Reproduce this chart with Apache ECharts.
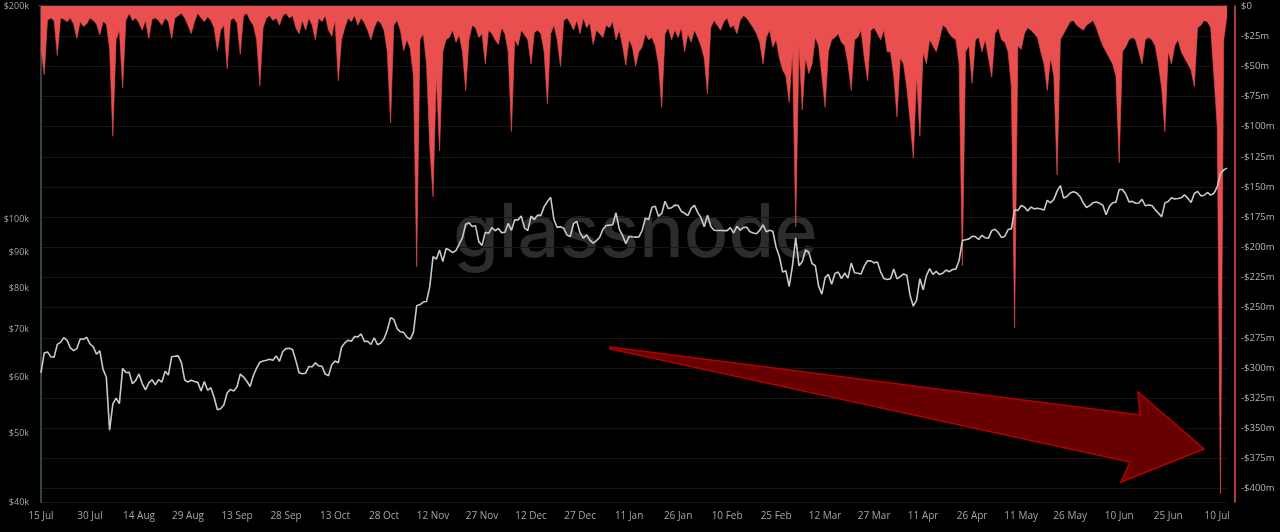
<!DOCTYPE html>
<html>
<head>
<meta charset="utf-8">
<script src="https://cdn.jsdelivr.net/npm/echarts@6/dist/echarts.min.js"></script>
<style>
html,body{margin:0;padding:0;background:#000;}
#chart{width:1280px;height:532px;}
</style>
</head>
<body>
<div id="chart"></div>
<script>
// Day 0 = 15 Jul 2024 (one value per day, 15 Jul 2024 .. 13 Jul 2025)
const startDate = '2024-07-15';

// BTC price (USD), one value per day
const priceValues = [
60800,64870,65100,64100,63980,66700,67150,68190,67570,65930,
65370,65800,67900,67810,68260,66820,66200,64620,65350,61500,
60000,50500,55000,56040,55030,61710,60880,60940,58710,59350,
60610,58740,57560,58870,59480,58480,59490,59010,61160,60380,
64100,64180,64260,62830,59420,59030,59390,59120,58970,57330,
59120,57480,57970,56160,53950,54140,54840,57020,57650,57340,
58130,60570,60000,59180,58190,60310,61760,62950,63200,63350,
63580,63340,64260,63140,65180,65790,65890,65600,63330,60840,
60630,60750,62090,62050,62820,62220,62130,60580,60270,62450,
63190,62850,66080,67040,67610,67400,68420,68360,69000,67370,
67380,66680,68160,66640,67010,67930,69910,72720,72340,70220,
69480,69360,68300,67800,69360,75640,75900,76540,76680,80470,
88700,87960,90580,87250,91070,90600,89850,90460,92340,94340,
98500,98990,97780,98010,93100,91990,95960,95650,97460,96450,
97190,95860,96000,98770,96590,99920,99920,101170,97360,96490,
101130,100000,101460,101370,104300,106030,107500,100040,97490,97750,
97220,95100,94690,98680,99430,95790,94170,95160,93560,92640,
93430,94420,96890,98110,98240,98350,102240,96950,95040,92480,
94700,94570,94490,94520,96530,100500,99990,104080,104400,101090,
102020,106150,103650,103960,104820,104710,102680,102090,101330,103730,
104740,102400,100650,97690,101400,97870,96620,96550,96530,96480,
96500,97440,95750,97840,96620,97510,97570,96120,95770,95540,
96640,98330,96130,96580,96270,91420,88720,84350,84700,80500,
86030,94270,86120,87220,90620,89960,86740,86150,80600,78530,
82860,83720,81070,83970,84340,82580,84080,82720,86850,84170,
84040,83830,86050,87500,87470,86900,87180,84350,82600,82330,
82550,85160,82510,83100,83840,83500,78210,75500,77000,82570,
79630,83400,85290,83740,84540,83670,84030,84900,84450,85060,
85170,87520,93440,93700,93940,94720,94650,93750,95040,94280,
94170,96490,96910,95890,94320,94750,96830,97030,103240,102970,
104700,104150,102810,104170,103540,103740,103490,103190,106450,105600,
106790,109680,111670,107290,107790,109040,109440,108990,107800,105640,
103990,104640,105650,105880,105430,104760,101580,104390,105620,105790,
110290,110260,108690,105930,106090,105470,105550,106790,104600,104880,
104660,103300,102120,100960,105580,106050,107340,106950,107090,107340,
108380,107140,105700,108850,109600,108000,108230,109200,108260,108920,
111230,115990,117520,118200
];

// Realized loss (USD millions, shown as negative), one value per day
const lossValues = [
35,57,12,10,12,41,10,11,13,10,
15,27,13,17,15,10,12,15,24,13,
15,35,108,28,20,68,12,6,12,10,
14,20,12,27,11,10,12,16,10,13,
27,10,8,6,10,16,23,13,6,10,
13,9,12,18,37,20,16,52,12,10,
14,40,8,6,12,16,28,66,18,10,
8,12,10,16,8,6,10,8,18,23,
12,20,10,16,28,10,13,8,20,25,
12,62,28,18,10,13,8,16,10,14,
20,28,18,12,14,20,38,97,16,12,
20,37,28,35,58,216,28,23,48,117,
158,58,120,38,28,26,20,30,24,38,
70,28,16,18,26,23,48,20,23,28,
32,18,23,38,104,28,33,20,24,28,
48,22,20,23,38,81,23,16,28,50,
12,10,14,20,12,23,10,18,14,32,
20,23,26,16,18,13,28,20,33,49,
28,34,50,38,34,23,28,26,33,48,
84,23,18,28,20,26,18,38,23,30,
20,26,33,43,73,18,12,16,20,13,
10,18,16,23,12,8,10,14,18,23,
30,48,26,20,34,28,43,53,58,80,
38,183,33,86,43,56,48,26,33,58,
84,38,28,26,23,30,33,48,70,28,
26,20,43,62,20,18,23,28,20,38,
38,58,92,43,48,68,95,126,58,108,
38,48,28,33,38,28,16,18,23,26,
28,48,215,38,33,64,28,26,38,28,
43,59,23,18,28,30,38,67,267,33,
36,23,18,20,23,26,38,48,70,43,
58,140,28,23,18,13,12,16,18,20,
16,14,12,18,26,33,38,43,48,58,
130,38,34,28,26,28,38,48,28,26,
28,33,48,68,104,38,48,33,28,38,
43,48,53,67,18,16,12,13,18,58,
100,404,28,8
];

// Axis ticks
const xTickLabels = ['15 Jul','30 Jul','14 Aug','29 Aug','13 Sep','28 Sep','13 Oct','28 Oct','12 Nov','27 Nov','12 Dec','27 Dec','11 Jan','26 Jan','10 Feb','25 Feb','12 Mar','27 Mar','11 Apr','26 Apr','11 May','26 May','10 Jun','25 Jun','10 Jul'];
const xTickStepDays = 15;
const priceTicks = [40000,50000,60000,70000,80000,90000,100000,200000];
const lossTickStep = 25;

const xTickValues = xTickLabels.map((_, i) => i * xTickStepDays);
const priceData = priceValues.map((v, i) => [i, v]);
const lossData = lossValues.map((v, i) => [i, v]);

const chart = echarts.init(document.getElementById('chart'), null, {renderer: 'canvas'});
const fontFamily = '"Open Sans", "Noto Sans", sans-serif';

chart.setOption({
  backgroundColor: '#000000',
  animation: false,
  grid: {left: 39, right: 53, top: 6, bottom: 30, containLabel: false, outerBoundsMode: 'none'},
  xAxis: {
    type: 'value',
    min: -0.6,
    max: priceValues.length - 1,
    axisLine: {show: true, lineStyle: {color: '#3a3a3a', width: 1.5}},
    axisTick: {show: true, customValues: xTickValues, length: 5, lineStyle: {color: '#3a3a3a'}},
    axisLabel: {
      customValues: xTickValues,
      color: '#a4a4a4', fontSize: 10, fontFamily, margin: 9,
      formatter: v => xTickLabels[Math.round(v / xTickStepDays)] || ''
    },
    splitLine: {show: false}
  },
  yAxis: [
    {
      type: 'log',
      position: 'left',
      min: 40000,
      max: 200000,
      offset: 5,
      axisLine: {show: true, lineStyle: {color: '#34444f', width: 2}},
      axisTick: {show: false, customValues: priceTicks},
      axisLabel: {
        customValues: priceTicks,
        color: '#a4a4a4', fontSize: 9, fontFamily, margin: 5,
        formatter: v => '$' + Math.round(v / 1000) + 'k'
      },
      splitLine: {show: false}
    },
    {
      type: 'value',
      position: 'right',
      inverse: true,
      min: 0,
      max: 411,
      interval: lossTickStep,
      offset: 8,
      axisLine: {show: true, lineStyle: {color: '#e84e4e', width: 1.5}},
      axisTick: {show: false},
      axisLabel: {
        color: '#b4b4b4', fontSize: 9.5, fontFamily, margin: 6,
        showMaxLabel: false,
        formatter: v => v === 0 ? '$0' : '-$' + v + 'm'
      },
      splitLine: {show: true, lineStyle: {color: '#161616', width: 1}}
    }
  ],
  graphic: [
    {
      type: 'text', z: 0, zlevel: 0, silent: true,
      left: 453, top: 198,
      style: {text: 'glassnode', fill: '#2c2c2c', font: '500 74px "Inter", "Lato", sans-serif'}
    },
    {
      type: 'polygon', z: 100, silent: true,
      shape: {points: [[610,347],[1140,415],[1138,392],[1204,449],[1121,482],[1130,462],[610,349]]},
      style: {fill: '#670000', stroke: '#b50000', lineWidth: 1.5}
    }
  ],
  series: [
    {
      name: 'Realized Loss',
      type: 'line',
      xAxisIndex: 0,
      yAxisIndex: 1,
      data: lossData,
      showSymbol: false,
      symbol: 'none',
      lineStyle: {width: 0.6, color: '#ea4f4f'},
      areaStyle: {color: '#ea4f4f', opacity: 1},
      z: 2
    },
    {
      name: 'Price',
      type: 'line',
      xAxisIndex: 0,
      yAxisIndex: 0,
      data: priceData,
      showSymbol: false,
      symbol: 'none',
      lineStyle: {width: 1.6, color: '#c9c9c9'},
      z: 3
    }
  ]
});
</script>
</body>
</html>
